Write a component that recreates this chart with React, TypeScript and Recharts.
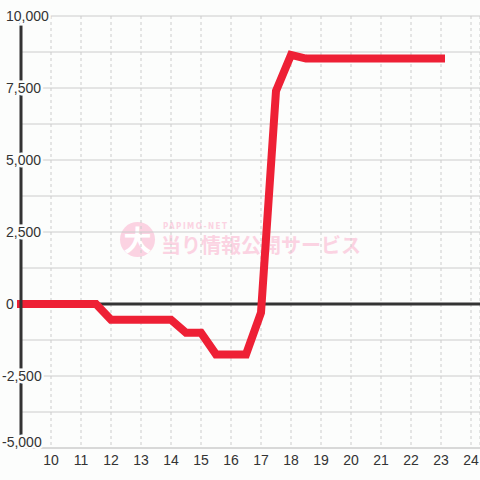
import { LineChart, Line, XAxis, YAxis, CartesianGrid, ReferenceLine } from "recharts";

const hours = [
  9, 9.5, 10, 10.5, 11, 11.5, 12, 12.5, 13, 13.5, 14, 14.5, 15, 15.5, 16, 16.5, 17, 17.5, 18, 18.5, 19, 19.5, 20,
  20.5, 21, 21.5, 22, 22.5, 23,
];
const balance = [
  0, 0, 0, 0, 0, 0, -550, -550, -550, -550, -550, -1000, -1000, -1750, -1750, -1750, -300, 7400, 8650, 8520, 8520,
  8520, 8520, 8520, 8520, 8520, 8520, 8520, 8520,
];
const xTicks = [10, 11, 12, 13, 14, 15, 16, 17, 18, 19, 20, 21, 22, 23, 24];
const yTicks = [-5000, -3750, -2500, -1250, 0, 1250, 2500, 3750, 5000, 6250, 7500, 8750, 10000];

const data = hours.map((h, i) => ({ h, v: balance[i] }));

const BG = "#fcfdfc";
const PINK = "#fbd3e2";

function YTick({ y, payload }: any) {
  const v = payload.value as number;
  if (v % 2500 !== 0) return <g />;
  // the lowest label sits a little above its gridline, as in the original
  const dy = v === -5000 ? -1 : 5;
  return (
    <text
      x={v < 0 ? 2 : 6}
      y={y}
      dy={dy}
      textAnchor="start"
      fontSize={14}
      fill="#333"
      stroke={BG}
      strokeWidth={5}
      paintOrder="stroke"
      fontFamily="Liberation Sans, Arial, sans-serif"
    >
      {v.toLocaleString("en-US")}
    </text>
  );
}

function XTick({ x, y, payload }: any) {
  return (
    <text x={x} y={y} dy={9} textAnchor="middle" fontSize={14} fill="#333" fontFamily="Liberation Sans, Arial, sans-serif">
      {payload.value}
    </text>
  );
}

export default function App() {
  return (
    <div style={{ position: "fixed", left: 0, top: 0, width: 480, height: 480, background: BG }}>
      {/* watermark */}
      <div style={{ position: "absolute", left: 120, top: 220, width: 260, height: 40, pointerEvents: "none" }}>
        <div
          style={{
            position: "absolute",
            left: 0,
            top: 2,
            width: 35,
            height: 35,
            borderRadius: 18,
            background: PINK,
            color: "#fff",
            fontSize: 28,
            fontWeight: 700,
            lineHeight: "35px",
            textAlign: "center",
            fontFamily: "Noto Sans CJK JP",
          }}
        >
          大
        </div>
        <div
          style={{
            position: "absolute",
            left: 43,
            top: 2,
            fontSize: 8,
            lineHeight: "9px",
            letterSpacing: 1.5,
            color: PINK,
            fontFamily: "DejaVu Sans Condensed, sans-serif",
            fontWeight: 700,
          }}
        >
          PAPIMO-NET
        </div>
        <div
          style={{
            position: "absolute",
            left: 41,
            top: 13,
            fontSize: 20,
            lineHeight: "24px",
            color: PINK,
            fontFamily: "Noto Sans CJK JP",
            fontWeight: 700,
            whiteSpace: "nowrap",
          }}
        >
          当り情報公開サービス
        </div>
      </div>
      <div style={{ position: "absolute", left: 0, top: 0 }}>
        <LineChart width={480} height={480} data={data} margin={{ top: 16, right: 0, left: 0, bottom: 0 }}>
          <CartesianGrid stroke="#ccc" horizontal={false} strokeDasharray="3 3" />
          <CartesianGrid stroke="#ccc" vertical={false} />
          <XAxis
            dataKey="h"
            type="number"
            domain={[9, 24.3]}
            ticks={xTicks}
            axisLine={{ stroke: "#ccc", strokeWidth: 1 }}
            tickLine={false}
            height={32}
            tick={<XTick />}
            interval={0}
          />
          <YAxis
            width={21}
            domain={[-5000, 10000]}
            ticks={yTicks}
            axisLine={{ stroke: "#333", strokeWidth: 3 }}
            tickLine={false}
            tick={<YTick />}
            interval={0}
          />
          <ReferenceLine y={0} stroke="#333" strokeWidth={3} />
          <Line
            type="linear"
            dataKey="v"
            stroke="#ee2035"
            strokeWidth={8}
            strokeLinecap="square"
            dot={false}
            activeDot={false}
            isAnimationActive={false}
          />
        </LineChart>
      </div>
    </div>
  );
}
